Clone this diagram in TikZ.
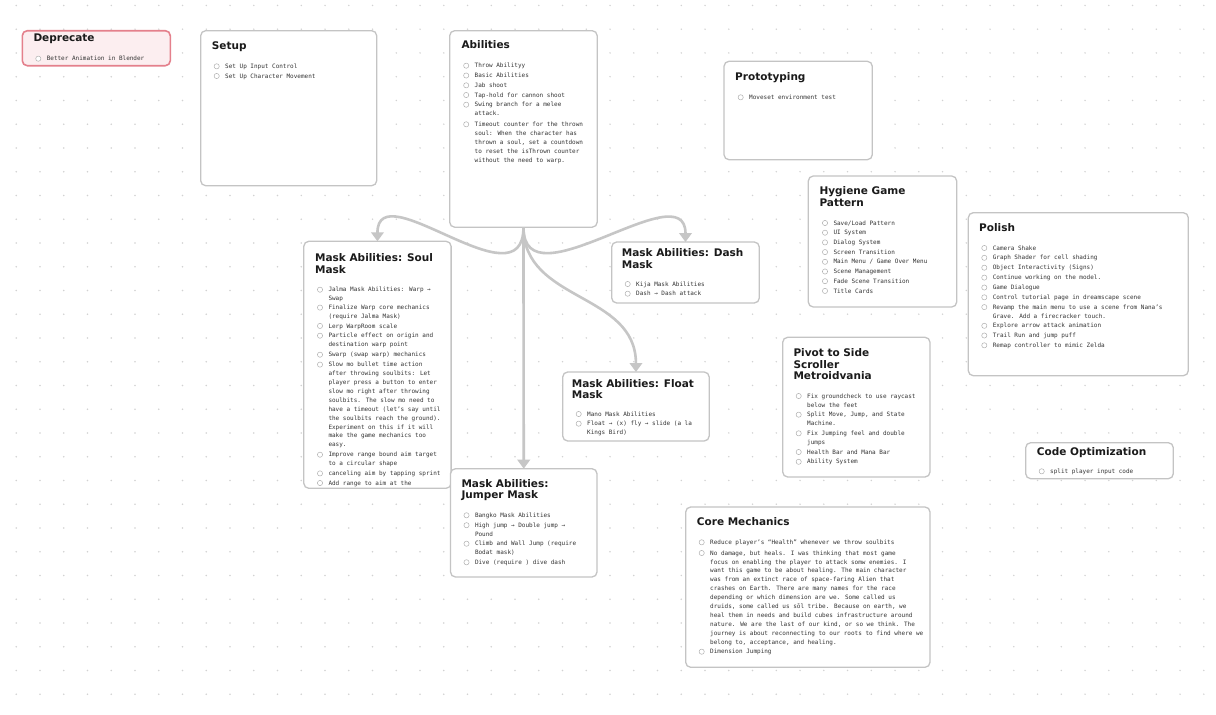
\documentclass[tikz,border=0pt]{standalone}
\usepackage{fontspec}
\setmainfont{DejaVu Sans Mono}
\newfontfamily\titlefont{DejaVu Sans}
\usetikzlibrary{arrows.meta,calc}
\definecolor{boxgray}{HTML}{C4C4C4}
\definecolor{arrowgray}{HTML}{C6C6C6}
\definecolor{dotgray}{HTML}{D2D2D2}
\definecolor{bodytext}{HTML}{333333}
\definecolor{titletext}{HTML}{1A1A1A}
\definecolor{depfill}{HTML}{FCEEF0}
\definecolor{depdraw}{HTML}{E4808C}
\definecolor{chkgray}{HTML}{B0B0B0}
\newcounter{nd}
\tikzset{
  card/.style={draw=boxgray, line width=1.3pt, rounded corners=5pt, fill=white,
    anchor=north west, inner sep=0pt, outer sep=0pt},
  depcard/.style={card, draw=depdraw, fill=depfill, line width=1.6pt},
  ttl/.style={anchor=base west, inner sep=0pt, text=titletext,
    font=\titlefont\bfseries\fontsize{10.5}{11.7}\selectfont},
  txt/.style={anchor=base west, inner sep=0pt, text=bodytext,
    font=\fontsize{6}{8.9}\selectfont},
  chk/.style={draw=chkgray, line width=0.5pt, fill=white},
  link/.style={draw=arrowgray, line width=2.6pt, -{Triangle[width=12.5pt,length=9pt]}},
}
\newcommand\ttl[3]{\stepcounter{nd}\node[ttl] (t\arabic{nd}) at (#1,#2+3.5) {\parbox[t]{220pt}{#3}};}
\newcommand\itm[3]{\stepcounter{nd}\draw[chk] (#1,#2) circle[radius=2.6];
  \node[txt] (i\arabic{nd}) at (#1+8.3,#2+2.1) {\parbox[t]{260pt}{#3}};}
\begin{document}
\begin{tikzpicture}[x=1pt,y=-1pt]
\useasboundingbox (0,0) rectangle (1216,715);
\fill[white] (0,0) rectangle (1216,715);
% dotted grid
\foreach \i in {0,...,51}{\foreach \j in {0,...,30}{%
  \fill[dotgray] (16.25+23.75*\i,5.45+23.75*\j) circle[radius=0.8];}}
% cards
\node[depcard, minimum width=148pt, minimum height=35pt] (dep) at (22.3,30.7) {};
\node[card, minimum width=176pt, minimum height=155pt] (setup) at (200.7,30.7) {};
\node[card, minimum width=147.5pt, minimum height=196.5pt] (abil) at (449.7,30.7) {};
\node[card, minimum width=148.3pt, minimum height=98.4pt] (proto) at (724,61.3) {};
\node[card, minimum width=148.4pt, minimum height=131pt] (hyg) at (808.3,176) {};
\node[card, minimum width=220pt, minimum height=163pt] (polish) at (968.3,212.7) {};
\node[card, minimum width=147.3pt, minimum height=247pt] (soul) at (303.8,241.3) {};
\node[card, minimum width=147.6pt, minimum height=61pt] (dash) at (611.7,242) {};
\node[card, minimum width=146.5pt, minimum height=69pt] (float) at (562.7,372) {};
\node[card, minimum width=146.5pt, minimum height=108.3pt] (jump) at (450.5,468.7) {};
\node[card, minimum width=147.3pt, minimum height=139.7pt] (pivot) at (782.7,337.3) {};
\node[card, minimum width=244.3pt, minimum height=160.3pt] (core) at (685.7,507) {};
\node[card, minimum width=147.6pt, minimum height=36pt] (code) at (1025.7,442.7) {};
% connectors
\draw[link] (abil.south) .. controls ($(abil.south)+(0,80)$) and ($(soul.north)+(0,-70)$) .. (soul.north);
\draw[link] (abil.south) .. controls ($(abil.south)+(0,80)$) and ($(dash.north)+(0,-71)$) .. (dash.north);
\draw[link] (abil.south) .. controls ($(abil.south)+(0,75)$) and ($(float.north)+(0,-80)$) .. (float.north);
\draw[link] (abil.south) -- (jump.north);
% Deprecate
\ttl{33.3}{38.3}{Deprecate}
\itm{38.3}{58.7}{Better Animation in Blender}
% Setup
\ttl{211.7}{46}{Setup}
\itm{216.7}{66.3}{Set Up Input Control}
\itm{216.7}{76}{Set Up Character Movement}
% Abilities
\ttl{461.3}{45.3}{Abilities}
\itm{466.2}{65.7}{Throw Abilityy}
\itm{466.2}{75.5}{Basic Abilities}
\itm{466.2}{85.3}{Jab shoot}
\itm{466.2}{95}{Tap-hold for cannon shoot}
\itm{466.2}{104.7}{Swing branch for a melee\\attack.}
\itm{466.2}{124.3}{Timeout counter for the thrown\\soul: When the character has\\thrown a soul, set a countdown\\to reset the isThrown counter\\without the need to warp.}
% Prototyping
\ttl{735}{77}{Prototyping}
\itm{740.7}{97.3}{Moveset environment test}
% Hygiene
\ttl{819.3}{191}{Hygiene Game\\Pattern}
\itm{825}{223}{Save/Load Pattern}
\itm{825}{232.7}{UI System}
\itm{825}{242.4}{Dialog System}
\itm{825}{252.1}{Screen Transition}
\itm{825}{261.8}{Main Menu / Game Over Menu}
\itm{825}{271.5}{Scene Management}
\itm{825}{281.2}{Fade Scene Transition}
\itm{825}{290.9}{Title Cards}
% Polish
\ttl{979}{228}{Polish}
\itm{984.3}{248}{Camera Shake}
\itm{984.3}{257.8}{Graph Shader for cell shading}
\itm{984.3}{267.7}{Object Interactivity (Signs)}
\itm{984.3}{277.6}{Continue working on the model.}
\itm{984.3}{287.5}{Game Dialogue}
\itm{984.3}{297.3}{Control tutorial page in dreamscape scene}
\itm{984.3}{307.1}{Revamp the main menu to use a scene from Nana’s\\Grave. Add a firecracker touch.}
\itm{984.3}{325.8}{Explore arrow attack animation}
\itm{984.3}{335.5}{Trail Run and jump puff}
\itm{984.3}{345.3}{Remap controller to mimic Zelda}
% Soul mask
\ttl{315}{258}{Mask Abilities: Soul\\Mask}
\itm{320}{289.7}{Jalma Mask Abilities: Warp →\\Swap}
\itm{320}{307.6}{Finalize Warp core mechanics\\(require Jalma Mask)}
\itm{320}{325.9}{Lerp WarpRoom scale}
\itm{320}{335.7}{Particle effect on origin and\\destination warp point}
\itm{320}{354.7}{Swarp (swap warp) mechanics}
\itm{320}{364.6}{Slow mo bullet time action\\after throwing soulbits: Let\\player press a button to enter\\slow mo right after throwing\\soulbits. The slow mo need to\\have a timeout (let’s say until\\the soulbits reach the ground).\\Experiment on this if it will\\make the game mechanics too\\easy.}
\itm{320}{454.7}{Improve range bound aim target\\to a circular shape}
\itm{320}{473.4}{canceling aim by tapping sprint}
\itm{320}{483}{Add range to aim at the}
% Dash mask
\ttl{621.7}{253}{Mask Abilities: Dash\\Mask}
\itm{627.7}{284}{Kija Mask Abilities}
\itm{627.7}{293.7}{Dash → Dash attack}
% Float mask
\ttl{571.7}{383.7}{Mask Abilities: Float\\Mask}
\itm{578.7}{414}{Mano Mask Abilities}
\itm{578.7}{423.7}{Float → (x) fly → slide (a la\\Kings Bird)}
% Jumper mask
\ttl{461.3}{483.7}{Mask Abilities:\\Jumper Mask}
\itm{466.5}{515.3}{Bangko Mask Abilities}
\itm{466.5}{525.2}{High jump → Double jump →\\Pound}
\itm{466.5}{543.7}{Climb and Wall Jump (require\\Bodat mask)}
\itm{466.5}{562.3}{Dive (require ) dive dash}
% Pivot
\ttl{793.3}{353}{Pivot to Side\\Scroller\\Metroidvania}
\itm{798.7}{396}{Fix groundcheck to use raycast\\below the feet}
\itm{798.7}{414.7}{Split Move, Jump, and State\\Machine.}
\itm{798.7}{433.3}{Fix Jumping feel and double\\jumps}
\itm{798.7}{452}{Health Bar and Mana Bar}
\itm{798.7}{461.8}{Ability System}
% Core mechanics
\ttl{696.7}{522.3}{Core Mechanics}
\itm{701.7}{542.3}{Reduce player’s “Health” whenever we throw soulbits}
\itm{701.7}{553}{No damage, but heals. I was thinking that most game\\focus on enabling the player to attack somw enemies. I\\want this game to be about healing. The main character\\was from an extinct race of space-faring Alien that\\crashes on Earth. There are many names for the race\\depending or which dimension are we. Some called us\\druids, some called us sōl tribe. Because on earth, we\\heal them in needs and build cubes infrastructure around\\nature. We are the last of our kind, or so we think. The\\journey is about reconnecting to our roots to find where we\\belong to, acceptance, and healing.}
\itm{701.7}{651.7}{Dimension Jumping}
% Code optimization
\ttl{1036.7}{452}{Code Optimization}
\itm{1041.7}{471.3}{split player input code}
\end{tikzpicture}
\end{document}
